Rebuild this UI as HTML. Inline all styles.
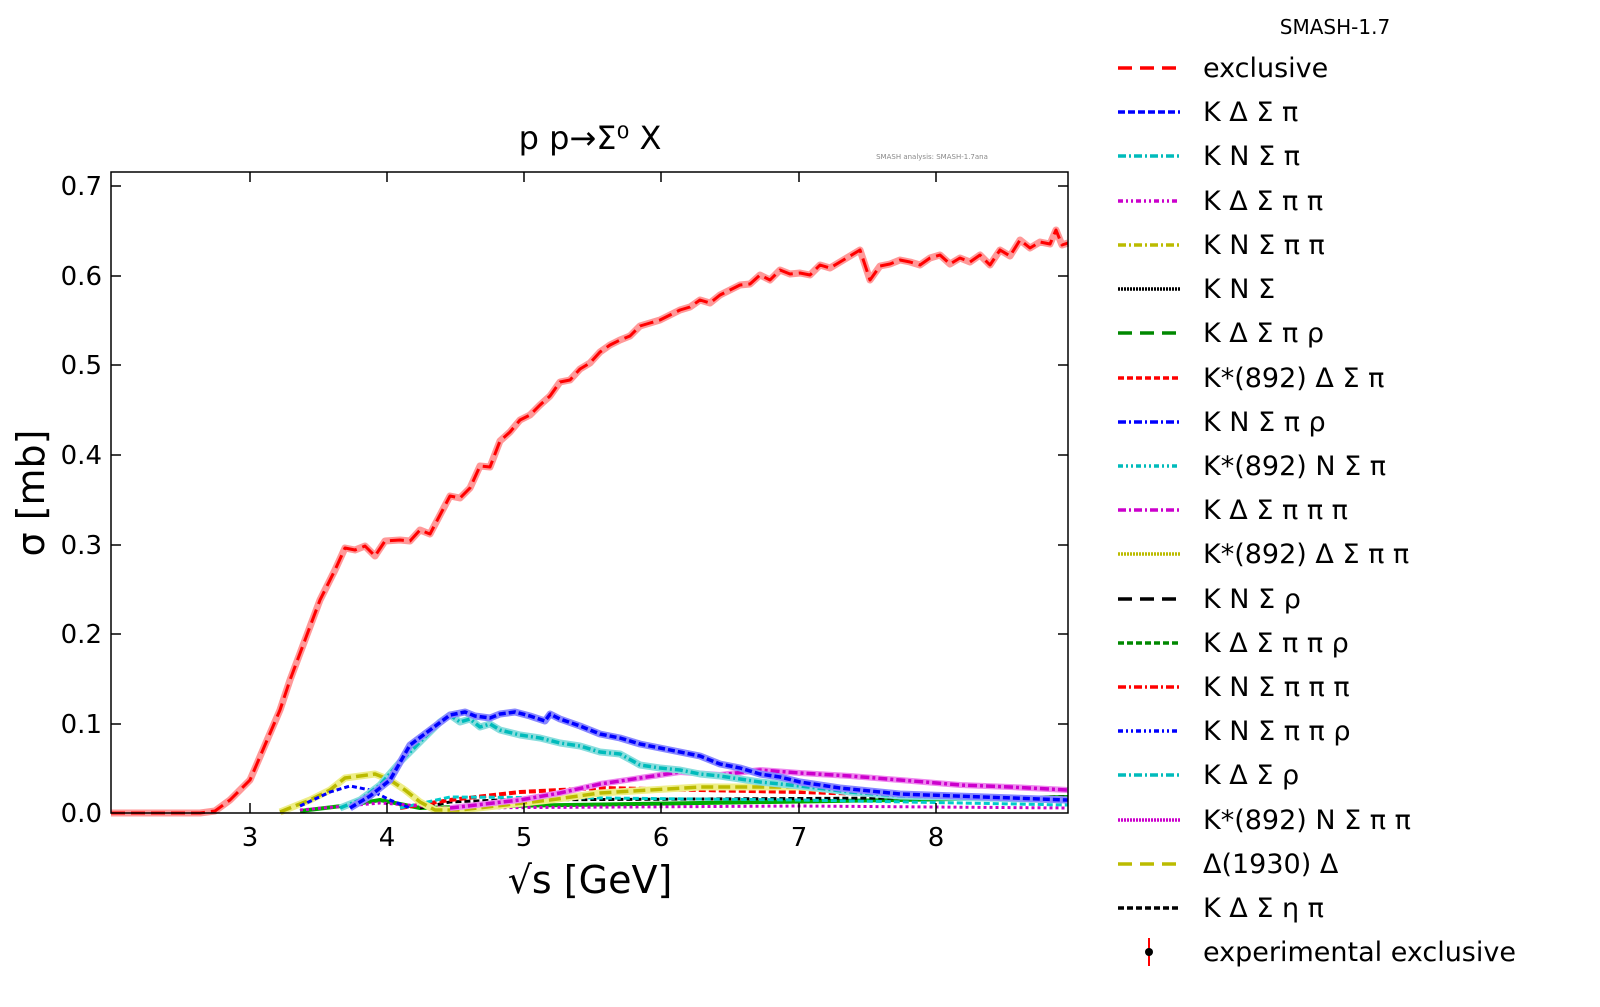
<!DOCTYPE html>
<html><head><meta charset="utf-8"><style>body{margin:0;background:#fff}svg{display:block}text{font-family:"DejaVu Sans","Liberation Sans",sans-serif}</style></head>
<body>
<svg width="1600" height="1007" viewBox="0 0 1600 1007" xmlns="http://www.w3.org/2000/svg">
<rect width="1600" height="1007" fill="#fff"/>
<text x="1335" y="34" font-size="20" text-anchor="middle">SMASH-1.7</text>
<text x="590" y="149" font-size="32" text-anchor="middle">p p→Σ⁰ X</text>
<text x="932" y="159" font-size="7" fill="#888" text-anchor="middle">SMASH analysis: SMASH-1.7ana</text>
<g fill="none" stroke-linejoin="round">
<polyline stroke="#f99" stroke-width="7" points="111,813 200,813 215,811 230,800 250,780 265,745 280,710 290,680 305,640 320,600 335,570 345,548 355,550 365,546 375,556 385,541 400,540 410,541 420,530 430,534 440,515 450,496 460,498 470,488 480,466 490,467 500,441 510,432 520,420 530,415 540,405 550,396 560,382 570,380 580,369 590,363 600,352 610,345 620,340 630,336 640,326 650,323 660,320 670,315 680,310 690,307 700,300 710,303 720,295 730,290 740,285 750,284 760,275 770,280 780,270 790,274 800,273 810,275 820,265 830,268 840,262 850,256 860,250 870,280 880,266 890,264 900,260 910,262 920,265 930,258 940,255 950,264 960,258 970,262 980,255 990,265 1000,250 1010,256 1020,240 1030,248 1040,242 1050,244 1056,230 1062,245 1068,243"/>
<polyline stroke="#f00" stroke-width="3" stroke-dasharray="14,6" points="111,813 200,813 215,811 230,800 250,780 265,745 280,710 290,680 305,640 320,600 335,570 345,548 355,550 365,546 375,556 385,541 400,540 410,541 420,530 430,534 440,515 450,496 460,498 470,488 480,466 490,467 500,441 510,432 520,420 530,415 540,405 550,396 560,382 570,380 580,369 590,363 600,352 610,345 620,340 630,336 640,326 650,323 660,320 670,315 680,310 690,307 700,300 710,303 720,295 730,290 740,285 750,284 760,275 770,280 780,270 790,274 800,273 810,275 820,265 830,268 840,262 850,256 860,250 870,280 880,266 890,264 900,260 910,262 920,265 930,258 940,255 950,264 960,258 970,262 980,255 990,265 1000,250 1010,256 1020,240 1030,248 1040,242 1050,244 1056,230 1062,245 1068,243"/>
<polyline stroke="#0a0" stroke-width="4" points="300,811 350,805 380,800 420,808 500,806 700,803 900,800 1068,797"/>
<polyline stroke="#000" stroke-width="3" stroke-dasharray="6,3" points="420,808 450,802 500,800 700,799 900,798 1068,797"/>
<polyline stroke="#f00" stroke-width="4" stroke-dasharray="7,3" points="400,808 450,800 520,792 600,788 800,792 1068,800"/>
<polyline stroke="#0cc" stroke-width="3" stroke-dasharray="6,3" points="400,808 450,797 600,798 800,800 1068,805"/>
<polyline stroke="#c0c" stroke-width="3" stroke-dasharray="3,3" points="300,810 380,803 450,808 800,806 1068,808"/>
<polyline stroke="#ee8" stroke-width="7" points="280,812 310,800 330,790 345,778 360,776 375,774 390,780 405,790 420,802 435,810 460,810 550,800 600,793 700,787 800,787 900,795 1068,800"/>
<polyline stroke="#bb0" stroke-width="3.5" stroke-dasharray="12,5" points="280,812 310,800 330,790 345,778 360,776 375,774 390,780 405,790 420,802 435,810 460,810 550,800 600,793 700,787 800,787 900,795 1068,800"/>
<polyline stroke="#00f" stroke-width="3" stroke-dasharray="5,3" points="300,806 330,792 350,786 370,790 390,800 410,808"/>
<polyline stroke="#e8e" stroke-width="6" points="450,808 520,800 560,793 600,784 640,778 680,772 720,775 760,770 800,773 850,776 900,780 960,785 1010,787 1068,790"/>
<polyline stroke="#c0c" stroke-width="3.5" stroke-dasharray="9,3,3,3" points="450,808 520,800 560,793 600,784 640,778 680,772 720,775 760,770 800,773 850,776 900,780 960,785 1010,787 1068,790"/>
<polyline stroke="#8dd" stroke-width="7" points="340,808 360,800 380,785 400,762 420,742 440,722 450,715 460,722 470,719 480,727 490,724 500,730 520,735 540,738 560,743 580,746 600,752 620,754 640,765 660,768 680,770 700,774 720,776 760,782 800,786 850,792 900,796 1068,800"/>
<polyline stroke="#0bb" stroke-width="3.5" stroke-dasharray="8,3,2,3" points="340,808 360,800 380,785 400,762 420,742 440,722 450,715 460,722 470,719 480,727 490,724 500,730 520,735 540,738 560,743 580,746 600,752 620,754 640,765 660,768 680,770 700,774 720,776 760,782 800,786 850,792 900,796 1068,800"/>
<polyline stroke="#88f" stroke-width="7" points="350,808 370,796 390,780 410,745 430,730 450,715 465,712 475,716 490,718 500,714 515,712 530,716 545,721 550,714 560,719 580,726 600,734 620,738 640,744 660,748 680,752 700,756 720,764 740,768 760,774 780,777 800,782 840,788 900,794 1068,800"/>
<polyline stroke="#00f" stroke-width="3.5" stroke-dasharray="7,3" points="350,808 370,796 390,780 410,745 430,730 450,715 465,712 475,716 490,718 500,714 515,712 530,716 545,721 550,714 560,719 580,726 600,734 620,738 640,744 660,748 680,752 700,756 720,764 740,768 760,774 780,777 800,782 840,788 900,794 1068,800"/>
</g>
<rect x="111" y="172" width="957" height="641" fill="none" stroke="#000" stroke-width="1.5"/>
<g stroke="#000" stroke-width="1.5">
<line x1="250" y1="813" x2="250" y2="803"/><line x1="387" y1="813" x2="387" y2="803"/><line x1="524" y1="813" x2="524" y2="803"/><line x1="661" y1="813" x2="661" y2="803"/><line x1="799" y1="813" x2="799" y2="803"/><line x1="936" y1="813" x2="936" y2="803"/>
<line x1="250" y1="172" x2="250" y2="182"/><line x1="387" y1="172" x2="387" y2="182"/><line x1="524" y1="172" x2="524" y2="182"/><line x1="661" y1="172" x2="661" y2="182"/><line x1="799" y1="172" x2="799" y2="182"/><line x1="936" y1="172" x2="936" y2="182"/>
<line x1="111" y1="724" x2="121" y2="724"/><line x1="111" y1="634" x2="121" y2="634"/><line x1="111" y1="545" x2="121" y2="545"/><line x1="111" y1="455" x2="121" y2="455"/><line x1="111" y1="365" x2="121" y2="365"/><line x1="111" y1="276" x2="121" y2="276"/><line x1="111" y1="186" x2="121" y2="186"/>
<line x1="1068" y1="724" x2="1058" y2="724"/><line x1="1068" y1="634" x2="1058" y2="634"/><line x1="1068" y1="545" x2="1058" y2="545"/><line x1="1068" y1="455" x2="1058" y2="455"/><line x1="1068" y1="365" x2="1058" y2="365"/><line x1="1068" y1="276" x2="1058" y2="276"/><line x1="1068" y1="186" x2="1058" y2="186"/>
</g>
<g font-size="26" text-anchor="middle">
<text x="250" y="846">3</text><text x="387" y="846">4</text><text x="524" y="846">5</text><text x="661" y="846">6</text><text x="799" y="846">7</text><text x="936" y="846">8</text>
</g>
<g font-size="26" text-anchor="end">
<text x="102" y="822">0.0</text><text x="102" y="733">0.1</text><text x="102" y="643">0.2</text><text x="102" y="554">0.3</text><text x="102" y="464">0.4</text><text x="102" y="374">0.5</text><text x="102" y="285">0.6</text><text x="102" y="195">0.7</text>
</g>
<text x="590" y="893" font-size="38" text-anchor="middle">√s [GeV]</text>
<text transform="translate(44,493) rotate(-90)" font-size="38" text-anchor="middle">σ [mb]</text>
<g stroke-width="3.5" fill="none">
<line x1="1118" y1="68" x2="1180" y2="68" stroke="#f00" stroke-dasharray="14,8"/>
<line x1="1118" y1="112" x2="1180" y2="112" stroke="#00f" stroke-dasharray="7,3"/>
<line x1="1118" y1="156" x2="1180" y2="156" stroke="#0bb" stroke-dasharray="8,3,2,3"/>
<line x1="1118" y1="201" x2="1180" y2="201" stroke="#c0c" stroke-dasharray="5,3,2,3,2,3"/>
<line x1="1118" y1="245" x2="1180" y2="245" stroke="#bb0" stroke-dasharray="8,3,2,3"/>
<line x1="1118" y1="289" x2="1180" y2="289" stroke="#000" stroke-dasharray="2,1"/>
<line x1="1118" y1="333" x2="1180" y2="333" stroke="#080" stroke-dasharray="14,8"/>
<line x1="1118" y1="378" x2="1180" y2="378" stroke="#f00" stroke-dasharray="6,3"/>
<line x1="1118" y1="422" x2="1180" y2="422" stroke="#00f" stroke-dasharray="8,3,2,3"/>
<line x1="1118" y1="466" x2="1180" y2="466" stroke="#0bb" stroke-dasharray="5,3,2,3,2,3"/>
<line x1="1118" y1="510" x2="1180" y2="510" stroke="#c0c" stroke-dasharray="8,3,2,3"/>
<line x1="1118" y1="554" x2="1180" y2="554" stroke="#bb0" stroke-dasharray="2,1"/>
<line x1="1118" y1="599" x2="1180" y2="599" stroke="#000" stroke-dasharray="14,8"/>
<line x1="1118" y1="643" x2="1180" y2="643" stroke="#080" stroke-dasharray="6,3"/>
<line x1="1118" y1="687" x2="1180" y2="687" stroke="#f00" stroke-dasharray="8,3,2,3"/>
<line x1="1118" y1="731" x2="1180" y2="731" stroke="#00f" stroke-dasharray="5,3,2,3,2,3"/>
<line x1="1118" y1="775" x2="1180" y2="775" stroke="#0bb" stroke-dasharray="8,3,2,3"/>
<line x1="1118" y1="820" x2="1180" y2="820" stroke="#c0c" stroke-dasharray="2,1"/>
<line x1="1118" y1="864" x2="1180" y2="864" stroke="#bb0" stroke-dasharray="14,8"/>
<line x1="1118" y1="908" x2="1180" y2="908" stroke="#000" stroke-dasharray="6,3"/>
<line x1="1149" y1="938" x2="1149" y2="966" stroke="#f00" stroke-width="2"/>
</g>
<circle cx="1149" cy="952" r="4" fill="#000"/>
<g font-size="27">
<text x="1203" y="77">exclusive</text>
<text x="1203" y="121">K Δ Σ π</text>
<text x="1203" y="165">K N Σ π</text>
<text x="1203" y="210">K Δ Σ π π</text>
<text x="1203" y="254">K N Σ π π</text>
<text x="1203" y="298">K N Σ</text>
<text x="1203" y="342">K Δ Σ π ρ</text>
<text x="1203" y="387">K*(892) Δ Σ π</text>
<text x="1203" y="431">K N Σ π ρ</text>
<text x="1203" y="475">K*(892) N Σ π</text>
<text x="1203" y="519">K Δ Σ π π π</text>
<text x="1203" y="563">K*(892) Δ Σ π π</text>
<text x="1203" y="608">K N Σ ρ</text>
<text x="1203" y="652">K Δ Σ π π ρ</text>
<text x="1203" y="696">K N Σ π π π</text>
<text x="1203" y="740">K N Σ π π ρ</text>
<text x="1203" y="784">K Δ Σ ρ</text>
<text x="1203" y="829">K*(892) N Σ π π</text>
<text x="1203" y="873">Δ(1930) Δ</text>
<text x="1203" y="917">K Δ Σ η π</text>
<text x="1203" y="961">experimental exclusive</text>
</g>
</svg>
</body></html>
